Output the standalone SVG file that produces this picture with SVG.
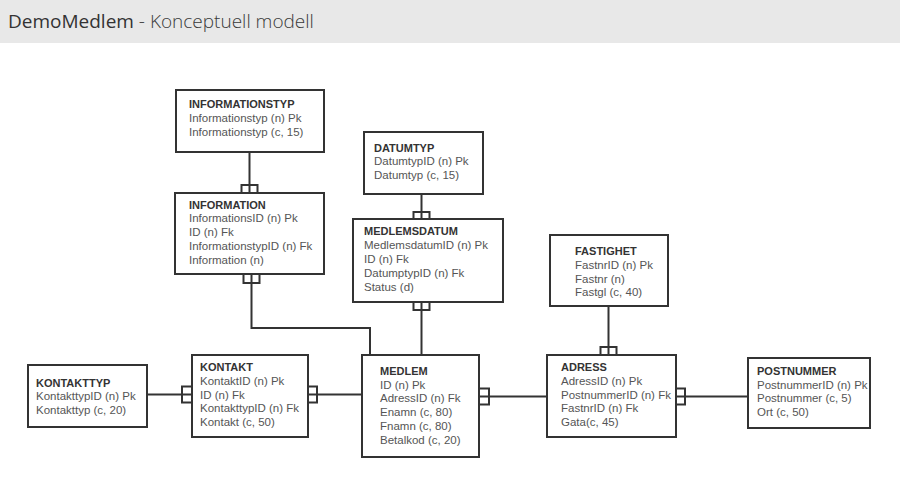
<svg xmlns="http://www.w3.org/2000/svg" width="900" height="500" viewBox="0 0 900 500">
  <style>
    .box { fill: #ffffff; stroke: #333333; stroke-width: 2; }
    .edge { fill: none; stroke: #333333; stroke-width: 2; }
    .mark { fill: none; stroke: #333333; stroke-width: 2; }
    .t { font-family: "Liberation Sans", Arial, sans-serif; font-size: 11px; fill: #333333; font-weight: bold; }
    .a { font-family: "Liberation Sans", Arial, sans-serif; font-size: 11.5px; fill: #555555; }
    .h1 { font-family: "Open Sans", "Noto Sans", sans-serif; font-size: 19px; fill: #333333; }
    .h2 { font-family: "Open Sans", "Noto Sans", sans-serif; font-size: 19px; fill: #3a3a3a; font-weight: 300; }
  </style>

  <!-- title bar -->
  <rect x="0" y="0" width="900" height="43" fill="#e8e8e8"/>
  <text x="8" y="28"><tspan class="h1">DemoMedlem</tspan><tspan class="h2"> - Konceptuell modell</tspan></text>

  <!-- relations -->
  <g id="connectors">
    <path class="edge" d="M249.5 152 V193"/>
    <path class="mark" d="M241.5 193 V185 H257.5 V193"/>

    <path class="edge" d="M251.5 274 V328 H370 V355"/>
    <path class="mark" d="M243.5 274 V283 H259.5 V274"/>

    <path class="edge" d="M421.5 194 V219"/>
    <path class="mark" d="M413.5 219 V212 H429.5 V219"/>

    <path class="edge" d="M421.5 302 V355"/>
    <path class="mark" d="M413.5 302 V310 H429.5 V302"/>

    <path class="edge" d="M608.5 306 V355"/>
    <path class="mark" d="M600.5 355 V347 H616.5 V355"/>

    <path class="edge" d="M147 394.5 H192"/>
    <path class="mark" d="M192 386.5 H182 V402.5 H192"/>

    <path class="edge" d="M308 394.5 H362"/>
    <path class="mark" d="M308 386.5 H317 V402.5 H308"/>

    <path class="edge" d="M479 396.5 H547"/>
    <path class="mark" d="M479 388.5 H489 V404.5 H479"/>

    <path class="edge" d="M676 396.5 H748"/>
    <path class="mark" d="M676 388.5 H685 V404.5 H676"/>
  </g>

  <g id="informationstyp">
    <rect class="box" x="176" y="90" width="148" height="62"/>
    <text class="t" x="189" y="108">INFORMATIONSTYP</text>
    <text class="a" x="189" y="122">Informationstyp (n) Pk</text>
    <text class="a" x="189" y="136">Informationstyp (c, 15)</text>
  </g>

  <g id="information">
    <rect class="box" x="175" y="193" width="149" height="81"/>
    <text class="t" x="189" y="209">INFORMATION</text>
    <text class="a" x="189" y="222">InformationsID (n) Pk</text>
    <text class="a" x="189" y="236">ID (n) Fk</text>
    <text class="a" x="189" y="250">InformationstypID (n) Fk</text>
    <text class="a" x="189" y="264">Information (n)</text>
  </g>

  <g id="datumtyp">
    <rect class="box" x="364" y="132" width="119" height="62"/>
    <text class="t" x="374" y="152">DATUMTYP</text>
    <text class="a" x="374" y="165">DatumtypID (n) Pk</text>
    <text class="a" x="374" y="179">Datumtyp (c, 15)</text>
  </g>

  <g id="medlemsdatum">
    <rect class="box" x="353" y="219" width="150" height="83"/>
    <text class="t" x="364" y="235">MEDLEMSDATUM</text>
    <text class="a" x="364" y="249">MedlemsdatumID (n) Pk</text>
    <text class="a" x="364" y="263">ID (n) Fk</text>
    <text class="a" x="364" y="277">DatumptypID (n) Fk</text>
    <text class="a" x="364" y="291">Status (d)</text>
  </g>

  <g id="fastighet">
    <rect class="box" x="550" y="235" width="118" height="71"/>
    <text class="t" x="575" y="255">FASTIGHET</text>
    <text class="a" x="575" y="269">FastnrID (n) Pk</text>
    <text class="a" x="575" y="283">Fastnr (n)</text>
    <text class="a" x="575" y="296">Fastgl (c, 40)</text>
  </g>

  <g id="kontakttyp">
    <rect class="box" x="28" y="365" width="119" height="62"/>
    <text class="t" x="36" y="387">KONTAKTTYP</text>
    <text class="a" x="36" y="400">KontakttypID (n) Pk</text>
    <text class="a" x="36" y="414">Kontakttyp (c, 20)</text>
  </g>

  <g id="kontakt">
    <rect class="box" x="192" y="355" width="116" height="82"/>
    <text class="t" x="200" y="371">KONTAKT</text>
    <text class="a" x="200" y="385">KontaktID (n) Pk</text>
    <text class="a" x="200" y="399">ID (n) Fk</text>
    <text class="a" x="200" y="412">KontakttypID (n) Fk</text>
    <text class="a" x="200" y="426">Kontakt (c, 50)</text>
  </g>

  <g id="medlem">
    <rect class="box" x="362" y="355" width="117" height="102"/>
    <text class="t" x="380" y="375">MEDLEM</text>
    <text class="a" x="380" y="389">ID (n) Pk</text>
    <text class="a" x="380" y="402">AdressID (n) Fk</text>
    <text class="a" x="380" y="416">Enamn (c, 80)</text>
    <text class="a" x="380" y="430">Fnamn (c, 80)</text>
    <text class="a" x="380" y="444">Betalkod (c, 20)</text>
  </g>

  <g id="adress">
    <rect class="box" x="547" y="355" width="129" height="82"/>
    <text class="t" x="561" y="371">ADRESS</text>
    <text class="a" x="561" y="385">AdressID (n) Pk</text>
    <text class="a" x="561" y="399">PostnummerID (n) Fk</text>
    <text class="a" x="561" y="412">FastnrID (n) Fk</text>
    <text class="a" x="561" y="426">Gata(c, 45)</text>
  </g>

  <g id="postnummer">
    <rect class="box" x="748" y="358" width="122" height="70"/>
    <text class="t" x="757" y="375">POSTNUMMER</text>
    <text class="a" x="757" y="389">PostnummerID (n) Pk</text>
    <text class="a" x="757" y="402">Postnummer (c, 5)</text>
    <text class="a" x="757" y="416">Ort (c, 50)</text>
  </g>
</svg>
